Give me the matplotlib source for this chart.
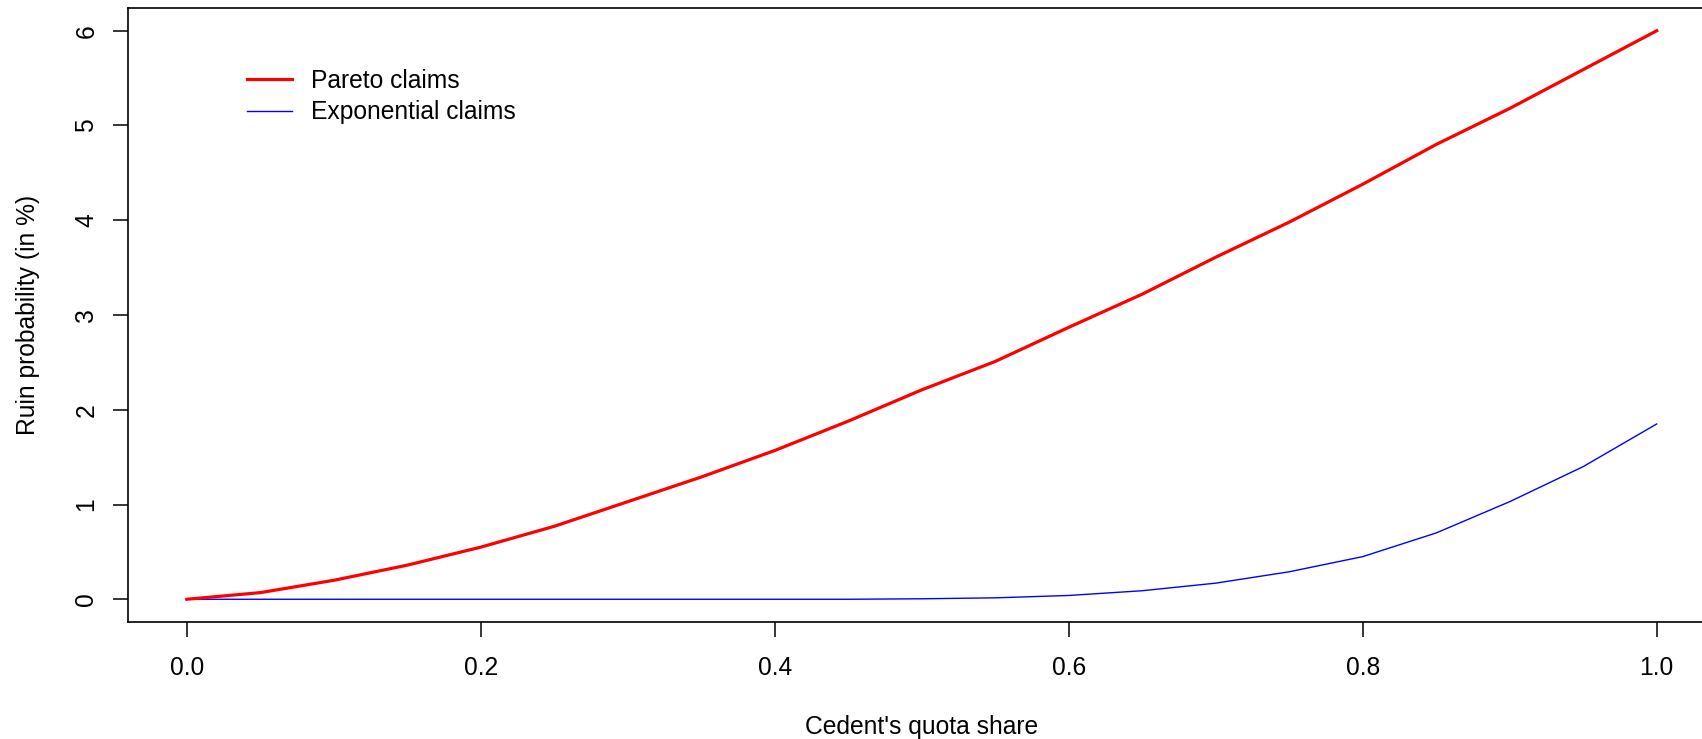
import matplotlib

matplotlib.use("Agg")

import matplotlib.pyplot as plt

plt.rcParams["font.family"] = ["Liberation Sans", "DejaVu Sans"]

# Ruin probability (in %) against the cedent's quota share.
quota_share = [0.00, 0.05, 0.10, 0.15, 0.20, 0.25, 0.30, 0.35, 0.40, 0.45, 0.50,
               0.55, 0.60, 0.65, 0.70, 0.75, 0.80, 0.85, 0.90, 0.95, 1.00]
pareto_ruin = [0.00, 0.07, 0.20, 0.36, 0.55, 0.77, 1.03, 1.29, 1.57, 1.88, 2.21,
               2.51, 2.87, 3.22, 3.61, 3.98, 4.38, 4.80, 5.18, 5.59, 6.00]
expo_ruin = [0.00, 0.00, 0.00, 0.00, 0.00, 0.00, 0.00, 0.00, 0.00, 0.00, 0.005,
             0.015, 0.04, 0.09, 0.17, 0.29, 0.45, 0.70, 1.03, 1.40, 1.85]

x_ticks = [0.0, 0.2, 0.4, 0.6, 0.8, 1.0]
x_tick_labels = ["0.0", "0.2", "0.4", "0.6", "0.8", "1.0"]
y_ticks = [0, 1, 2, 3, 4, 5, 6]
y_tick_labels = ["0", "1", "2", "3", "4", "5", "6"]

W, H = 1702, 739
FS = 17.7

fig = plt.figure(figsize=(W / 100, H / 100), dpi=100)
# plot region runs past the right edge of the canvas
left, right, bottom, top = 128, 1715.5, 622, 8
ax = fig.add_axes([left / W, 1 - bottom / H, (right - left) / W, (bottom - top) / H])

ax.plot(quota_share, pareto_ruin, color="red", lw=2.3, label="Pareto claims", zorder=3)
ax.plot(quota_share, expo_ruin, color="blue", lw=1.0, label="Exponential claims", zorder=2)

ax.set_xlim(-0.04, 1.04)
ax.set_ylim(-0.24, 6.24)
ax.set_xticks(x_ticks)
ax.set_xticklabels(x_tick_labels, fontsize=FS)
ax.set_yticks(y_ticks)
ax.set_yticklabels(y_tick_labels, fontsize=FS, rotation=90, va="center")

ax.tick_params(axis="both", direction="out", length=10.8, width=1.1, color="black")
ax.tick_params(axis="x", pad=14)
ax.tick_params(axis="y", pad=10.5)
for side in ("left", "bottom", "top", "right"):
    ax.spines[side].set_linewidth(1.2)

fig.text((left + right) / 2 / W, 1 - 727 / H, "Cedent's quota share",
         ha="center", va="center", fontsize=FS)
fig.text(28 / W, 1 - (top + bottom) / 2 / H, "Ruin probability (in %)",
         ha="center", va="center", rotation=90, fontsize=FS)

ax.legend(loc="upper left", bbox_to_anchor=(247 / W, 1 - 69 / H),
          bbox_transform=fig.transFigure, frameon=False, fontsize=FS,
          handlelength=1.85, handletextpad=0.75, labelspacing=0.3,
          borderaxespad=0, borderpad=0)

fig.savefig("out.png", dpi=100)
